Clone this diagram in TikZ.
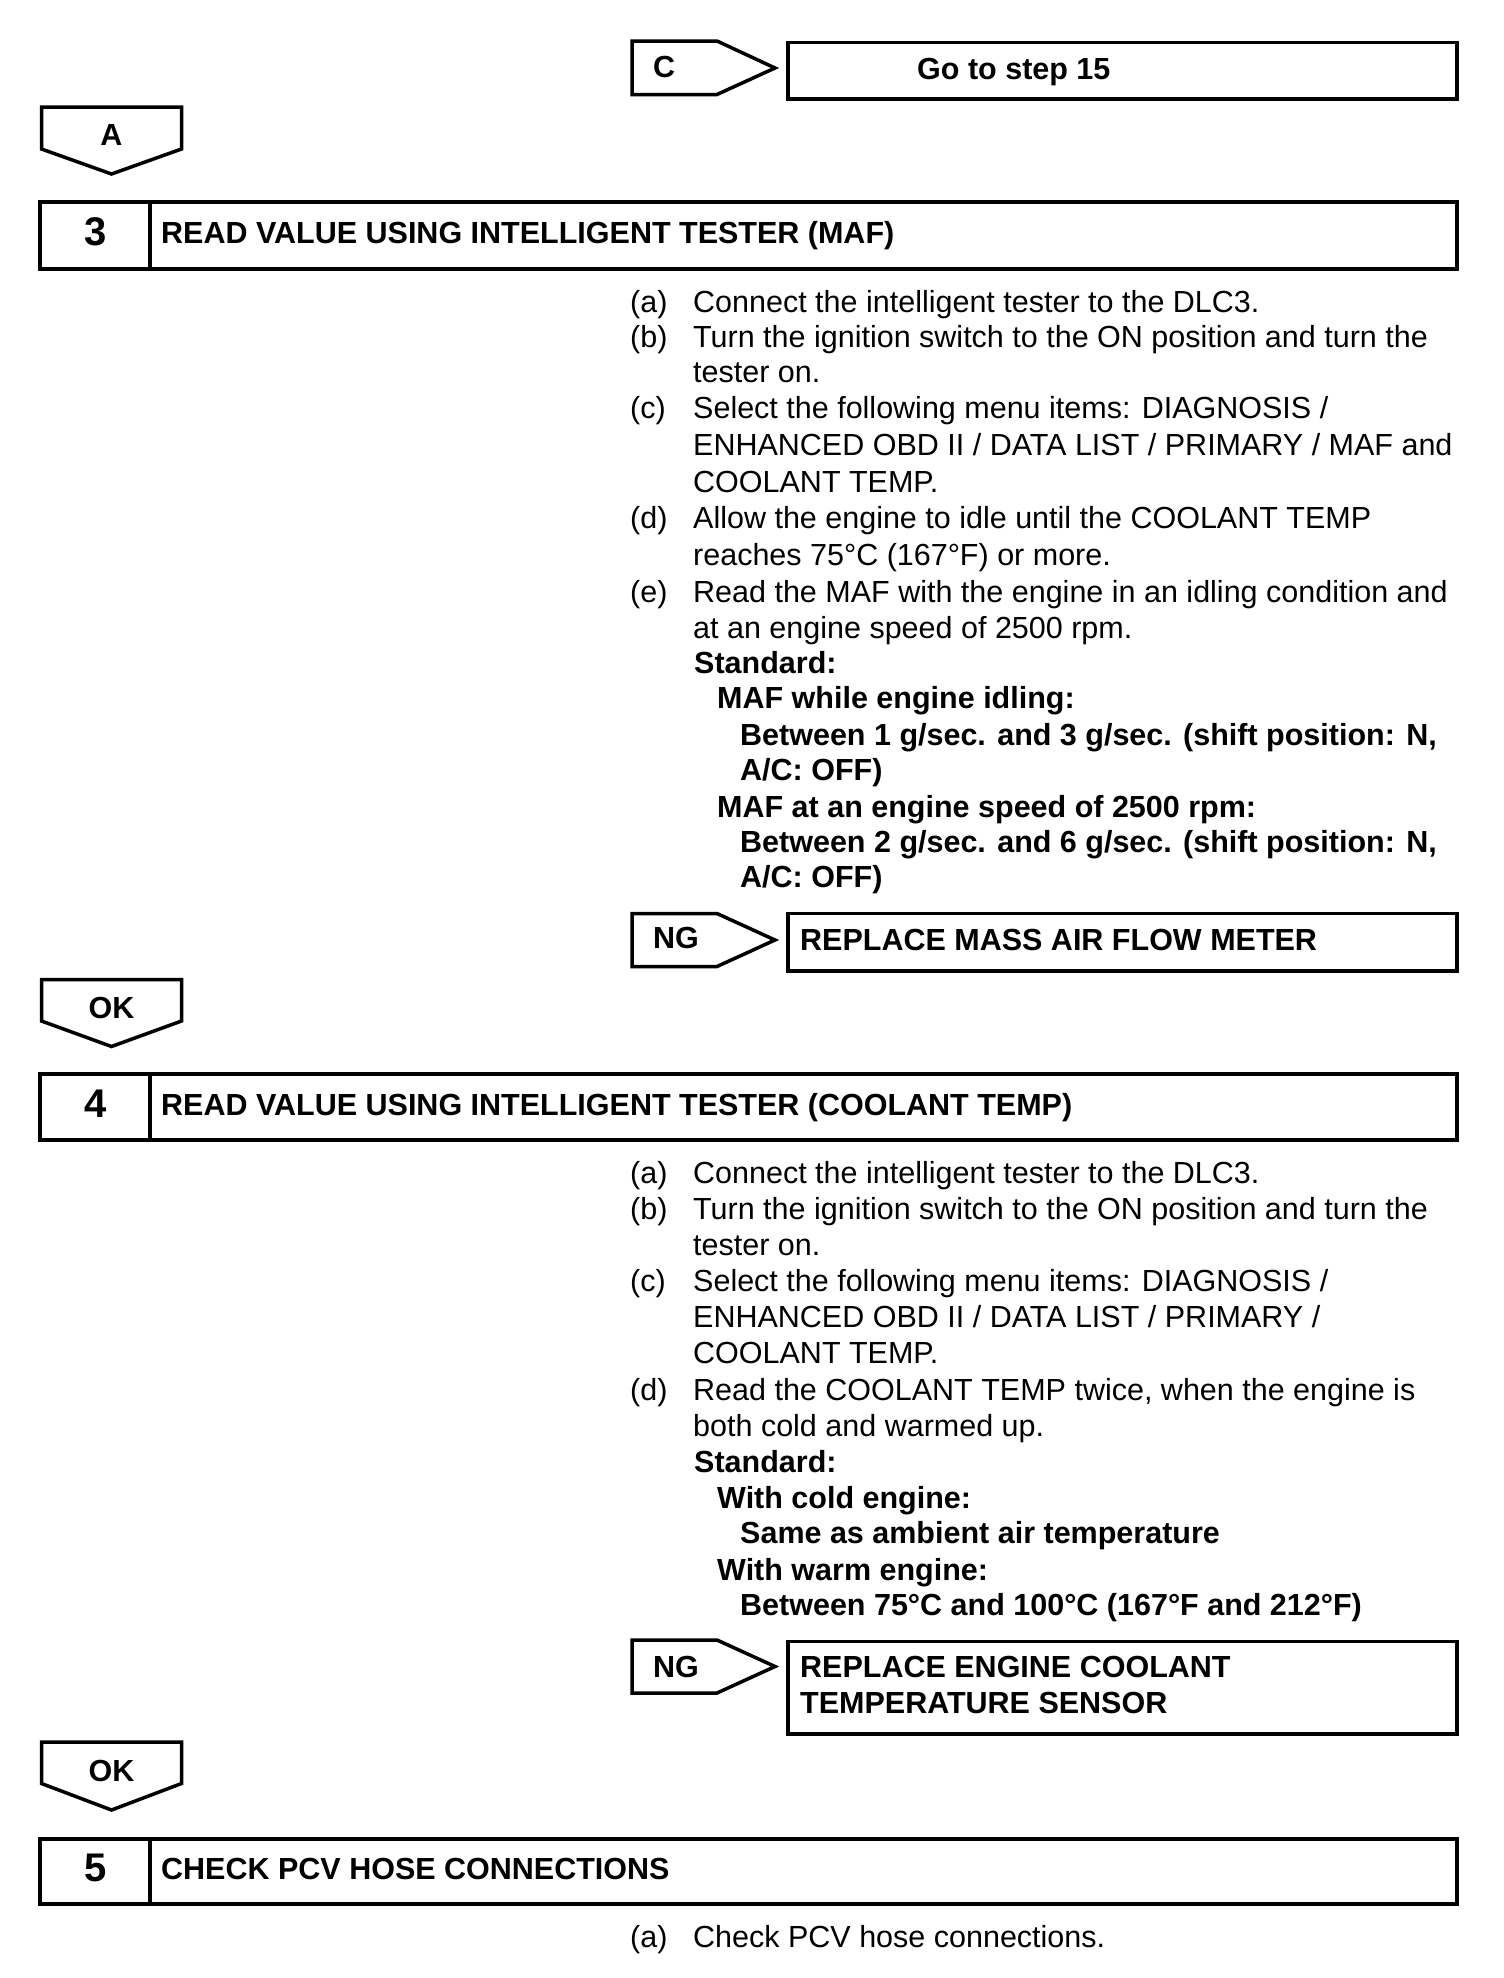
\documentclass[tikz,border=0pt]{standalone}
\usepackage{fontspec}
\setmainfont{Liberation Sans}
\begin{document}
\begin{tikzpicture}[x=1pt,y=-1pt,
  shp/.style={line width=3.5pt, line join=miter},
  stepbox/.style={line width=4pt},
  body/.style={anchor=base west, inner sep=0pt, font=\fontsize{30.5}{36}\selectfont},
  bbody/.style={anchor=base west, inner sep=0pt, font=\fontsize{30.5}{36}\selectfont\bfseries},
  ctr/.style={anchor=base, inner sep=0pt, font=\fontsize{30.5}{36}\selectfont\bfseries},
  num/.style={anchor=base, inner sep=0pt, font=\fontsize{40}{48}\selectfont\bfseries}]
\useasboundingbox[fill=white] (0,0) rectangle (1504,1978);

% ---- C -> Go to step 15
\draw[shp] (632,41) -- (717,41) -- (775,68) -- (717,94.5) -- (632,94.5) -- cycle;
\node[bbody] (lc) at (653,77) {C};
\draw[shp] (788,42.5) rectangle (1457,99);
\node[bbody] (go15) at (917,79) {Go to step 15};

% ---- A
\draw[shp] (41.5,107) -- (181.5,107) -- (181.5,149) -- (111.5,174) -- (41.5,149) -- cycle;
\node[ctr] (la) at (111.5,145.5) {A};

% ---- Step 3
\draw[stepbox] (40,202) rectangle (1457,269);
\draw[stepbox] (150,202) -- (150,269);
\node[num] (n3) at (96,245.5) {3};
\node[bbody] (t3) at (161,243) {READ VALUE USING INTELLIGENT TESTER (MAF)};

\node[body] (s3la) at (630,312) {(a)};
\node[body] (s3a) at (693,312) {Connect the intelligent tester to the DLC3.};
\node[body] (s3lb) at (630,347) {(b)};
\node[body] (s3b1) at (693,347) {Turn the ignition switch to the ON position and turn the};
\node[body] (s3b2) at (693,382) {tester on.};
\node[body] (s3lc) at (630,418) {(c)};
\node[body] (s3c1) at (693,418) {Select the following menu items: DIAGNOSIS /};
\node[body] (s3c2) at (693,455) {ENHANCED OBD II / DATA LIST / PRIMARY / MAF and};
\node[body] (s3c3) at (693,492) {COOLANT TEMP.};
\node[body] (s3ld) at (630,528) {(d)};
\node[body] (s3d1) at (693,528) {Allow the engine to idle until the COOLANT TEMP};
\node[body] (s3d2) at (693,565) {reaches 75°C (167°F) or more.};
\node[body] (s3le) at (630,602) {(e)};
\node[body] (s3e1) at (693,602) {Read the MAF with the engine in an idling condition and};
\node[body] (s3e2) at (693,638) {at an engine speed of 2500 rpm.};
\node[bbody] (s3s) at (694,673) {Standard:};
\node[bbody] (s3s1) at (717,708) {MAF while engine idling:};
\node[bbody] (s3s2) at (740,745) {Between 1 g/sec. and 3 g/sec. (shift position: N,};
\node[bbody] (s3s3) at (740,780) {A/C: OFF)};
\node[bbody] (s3s4) at (717,817) {MAF at an engine speed of 2500 rpm:};
\node[bbody] (s3s5) at (740,852) {Between 2 g/sec. and 6 g/sec. (shift position: N,};
\node[bbody] (s3s6) at (740,887) {A/C: OFF)};

% ---- NG -> replace MAF
\draw[shp] (632,913.5) -- (717,913.5) -- (775,940) -- (717,966.5) -- (632,966.5) -- cycle;
\node[bbody] (ng3) at (653,948) {NG};
\draw[shp] (788,913.5) rectangle (1457,971);
\node[bbody] (r3) at (800,950) {REPLACE MASS AIR FLOW METER};

% ---- OK
\draw[shp] (41.5,979.5) -- (181.5,979.5) -- (181.5,1021) -- (111.5,1046.5) -- (41.5,1021) -- cycle;
\node[ctr] (ok3) at (111.5,1018) {OK};

% ---- Step 4
\draw[stepbox] (40,1074) rectangle (1457,1140);
\draw[stepbox] (150,1074) -- (150,1140);
\node[num] (n4) at (96,1117.5) {4};
\node[bbody] (t4) at (161,1115) {READ VALUE USING INTELLIGENT TESTER (COOLANT TEMP)};

\node[body] (s4la) at (630,1183) {(a)};
\node[body] (s4a) at (693,1183) {Connect the intelligent tester to the DLC3.};
\node[body] (s4lb) at (630,1219) {(b)};
\node[body] (s4b1) at (693,1219) {Turn the ignition switch to the ON position and turn the};
\node[body] (s4b2) at (693,1255) {tester on.};
\node[body] (s4lc) at (630,1291) {(c)};
\node[body] (s4c1) at (693,1291) {Select the following menu items: DIAGNOSIS /};
\node[body] (s4c2) at (693,1327) {ENHANCED OBD II / DATA LIST / PRIMARY /};
\node[body] (s4c3) at (693,1363) {COOLANT TEMP.};
\node[body] (s4ld) at (630,1400) {(d)};
\node[body] (s4d1) at (693,1400) {Read the COOLANT TEMP twice, when the engine is};
\node[body] (s4d2) at (693,1436) {both cold and warmed up.};
\node[bbody] (s4s) at (694,1472) {Standard:};
\node[bbody] (s4s1) at (717,1508) {With cold engine:};
\node[bbody] (s4s2) at (740,1543) {Same as ambient air temperature};
\node[bbody] (s4s3) at (717,1580) {With warm engine:};
\node[bbody] (s4s4) at (740,1615) {Between 75°C and 100°C (167°F and 212°F)};

% ---- NG -> replace ECT sensor
\draw[shp] (632,1640) -- (717,1640) -- (775,1666.5) -- (717,1693) -- (632,1693) -- cycle;
\node[bbody] (ng4) at (653,1677) {NG};
\draw[shp] (788,1641.5) rectangle (1457,1734);
\node[bbody] (r4a) at (800,1677) {REPLACE ENGINE COOLANT};
\node[bbody] (r4b) at (800,1713) {TEMPERATURE SENSOR};

% ---- OK
\draw[shp] (41.5,1742) -- (181.5,1742) -- (181.5,1783.5) -- (111.5,1810) -- (41.5,1783.5) -- cycle;
\node[ctr] (ok4) at (111.5,1781) {OK};

% ---- Step 5
\draw[stepbox] (40,1839) rectangle (1457,1904);
\draw[stepbox] (150,1839) -- (150,1904);
\node[num] (n5) at (96,1881) {5};
\node[bbody] (t5) at (161,1879) {CHECK PCV HOSE CONNECTIONS};

\node[body] (s5la) at (630,1947) {(a)};
\node[body] (s5a) at (693,1947) {Check PCV hose connections.};
\end{tikzpicture}
\end{document}
